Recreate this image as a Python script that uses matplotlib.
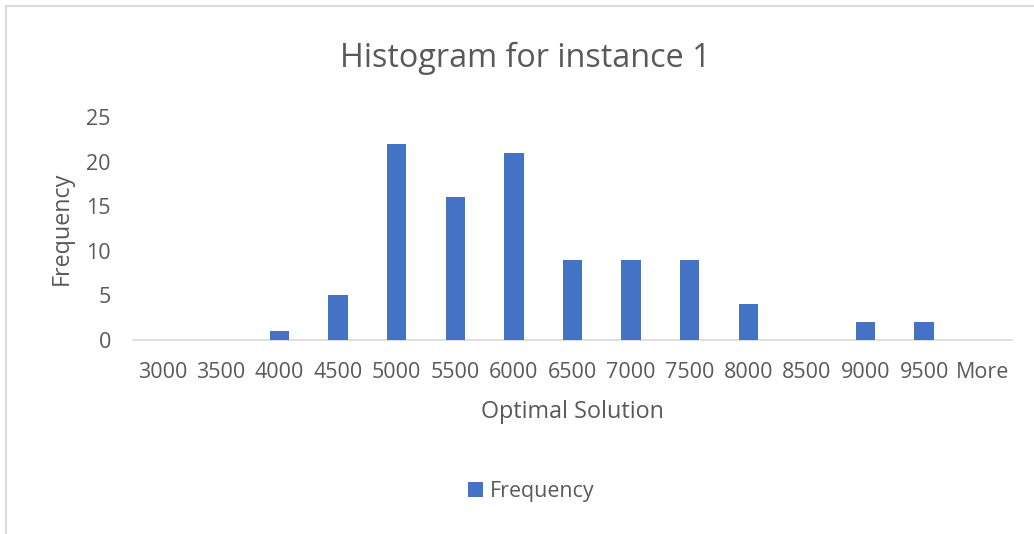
import numpy as np
import matplotlib.pyplot as plt
from matplotlib.lines import Line2D

# Histogram bins and counts
bins = ['3000', '3500', '4000', '4500', '5000', '5500', '6000', '6500',
        '7000', '7500', '8000', '8500', '9000', '9500', 'More']
counts = [0, 0, 1, 5, 22, 16, 21, 9, 9, 9, 4, 0, 2, 2, 0]
yticks = [0, 5, 10, 15, 20, 25]

plt.rcParams['font.family'] = ['Open Sans', 'DejaVu Sans']
text_col = '#595959'
bar_col = '#4472C4'

fig = plt.figure(figsize=(10.34, 5.34), dpi=100)
ax = fig.add_axes([0.1286, 0.3633, 0.9787 - 0.1286, 0.781 - 0.3633])

x = np.arange(len(bins))
ax.bar(x, counts, width=0.33, color=bar_col, label='Frequency', zorder=3)

ax.set_xlim(-0.5, len(bins) - 0.5)
ax.set_ylim(0, 25)
ax.set_xticks(x)
ax.set_xticklabels(bins)
ax.set_yticks(yticks)
ax.tick_params(axis='both', length=0, labelsize=15.5, colors=text_col)
ax.tick_params(axis='x', pad=16)
ax.tick_params(axis='y', pad=16)

for s in ['top', 'right', 'left']:
    ax.spines[s].set_visible(False)
ax.spines['bottom'].set_color('#d9d9d9')
ax.spines['bottom'].set_linewidth(1.2)

ax.set_xlabel('Optimal Solution', fontsize=16.8, color=text_col, labelpad=12)
ax.set_ylabel('Frequency', fontsize=16.8, color=text_col, labelpad=9)

fig.text(0.5085, 0.89, 'Histogram for instance 1', ha='center', va='center',
         fontsize=23.3, color=text_col)

fig.legend(loc='center', bbox_to_anchor=(0.514, 0.08), frameon=False,
           fontsize=15.4, labelcolor=text_col, handlelength=0.7,
           handleheight=0.7, handletextpad=0.3)

# thin frame along the top and left edges
fig.add_artist(Line2D([0.0058, 1.0], [0.9895, 0.9895], color='#d9d9d9', lw=1.5))
fig.add_artist(Line2D([0.0058, 0.0058], [0.0, 0.9895], color='#d9d9d9', lw=1.5))

fig.savefig('out.png', dpi=100)
